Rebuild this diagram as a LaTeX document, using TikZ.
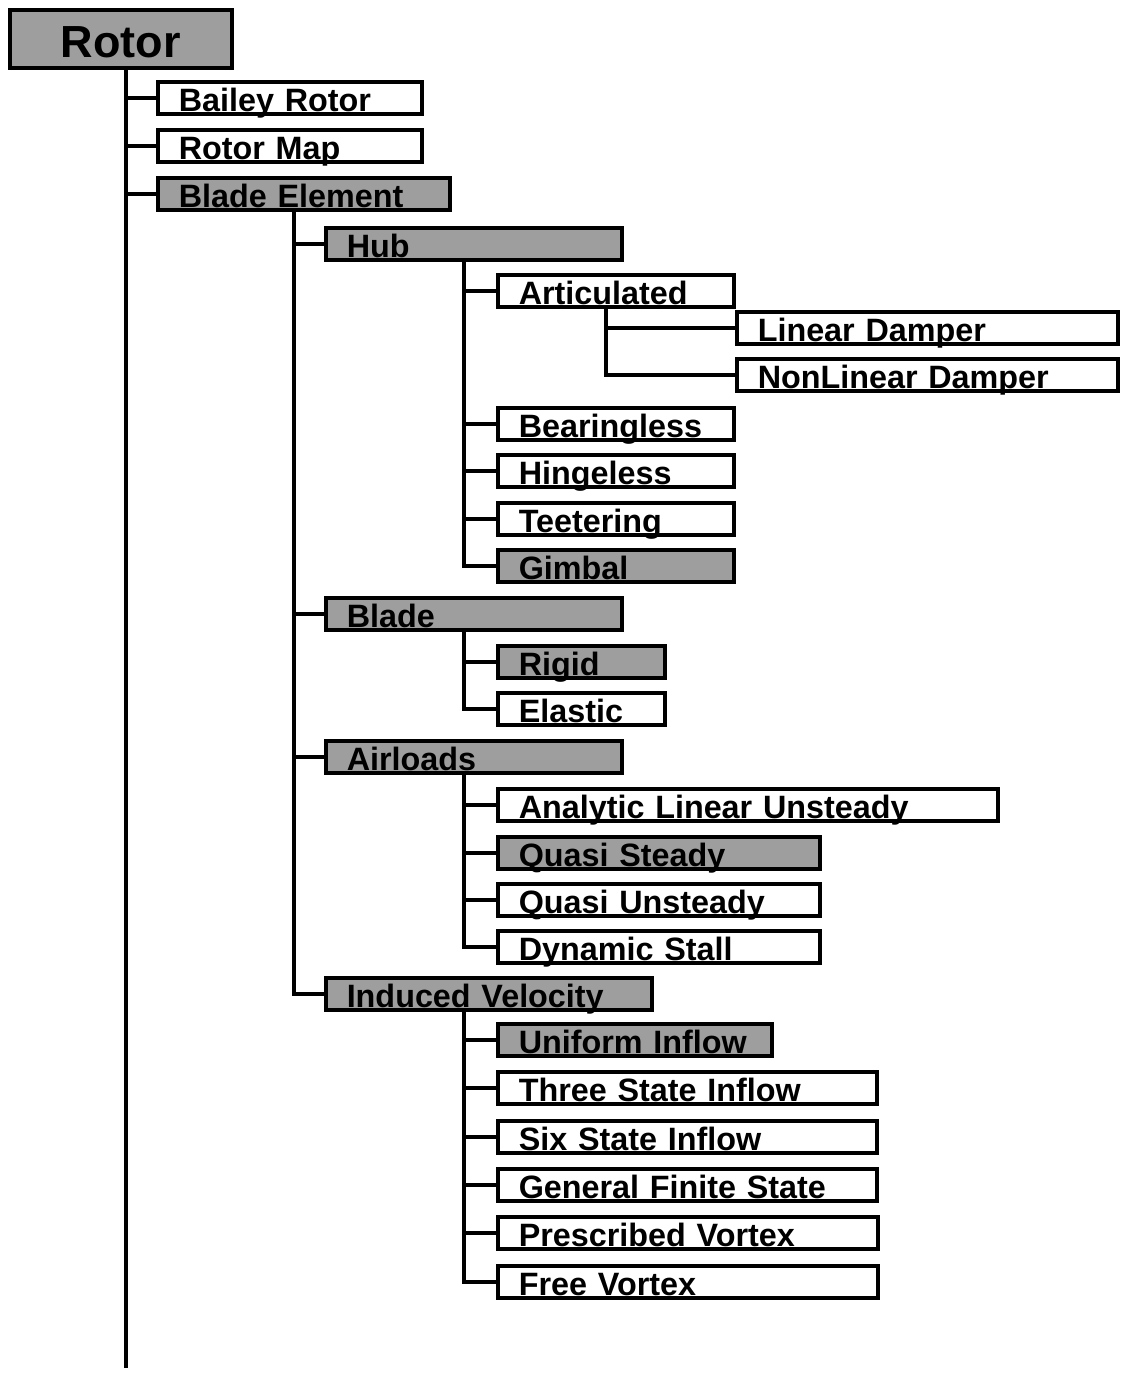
\documentclass[tikz,border=0pt]{standalone}
\usepackage{fontspec}
\setmainfont{Liberation Sans}
\newdimen\px \px=0.02cm
\begin{document}
\begin{tikzpicture}[x=0.02cm,y=-0.02cm,
  conn/.style={line width=2.2pt},
  box/.style={draw, line width=2pt, anchor=north west, inner xsep=21\px, inner ysep=0pt,
    text height=30\px, text depth=2\px, align=left,
    font=\fontsize{18.4}{20}\selectfont\bfseries},
  shaded/.style={box, fill=black!38},
  plain/.style={box, fill=white}]
\useasboundingbox (0,0) rectangle (1123,1374);
\newcommand{\bx}[6]{\node[#1, text width=#5\px] (#2) at (#3,#4) {#6};}
% root
\node[draw, fill=black!38, line width=2pt, anchor=north west, inner sep=0pt,
  minimum width=222\px, text height=48\px, text depth=10\px,
  font=\fontsize{25.6}{28}\selectfont\bfseries] (rotor) at (8,8) {Rotor};
% level 1
\bx{plain}{bailey}{156}{80}{222}{Bailey Rotor}
\bx{plain}{rotormap}{156}{128}{222}{Rotor Map}
\bx{shaded}{bladeel}{156}{176}{250}{Blade Element}
% level 2
\bx{shaded}{hub}{324}{226}{254}{Hub}
\bx{shaded}{blade}{324}{596}{254}{Blade}
\bx{shaded}{airloads}{324}{739}{254}{Airloads}
\bx{shaded}{indvel}{324}{976}{284}{Induced Velocity}
% hub children
\bx{plain}{artic}{496}{273}{194}{Articulated}
\bx{plain}{lindamp}{735}{310}{339}{Linear Damper}
\bx{plain}{nonlin}{735}{357}{339}{NonLinear Damper}
\bx{plain}{bearing}{496}{406}{194}{Bearingless}
\bx{plain}{hinge}{496}{453}{194}{Hingeless}
\bx{plain}{teeter}{496}{501}{194}{Teetering}
\bx{shaded}{gimbal}{496}{548}{194}{Gimbal}
% blade children
\bx{shaded}{rigid}{496}{644}{125}{Rigid}
\bx{plain}{elastic}{496}{691}{125}{Elastic}
% airloads children
\bx{plain}{analytic}{496}{787}{458}{Analytic Linear Unsteady}
\bx{shaded}{quasist}{496}{835}{280}{Quasi Steady}
\bx{plain}{quasiun}{496}{882}{280}{Quasi Unsteady}
\bx{plain}{dynstall}{496}{929}{280}{Dynamic Stall}
% induced velocity children
\bx{shaded}{uniform}{496}{1022}{232}{Uniform Inflow}
\bx{plain}{three}{496}{1070}{337}{Three State Inflow}
\bx{plain}{six}{496}{1119}{337}{Six State Inflow}
\bx{plain}{general}{496}{1167}{337}{General Finite State}
\bx{plain}{prescribed}{496}{1215}{338}{Prescribed Vortex}
\bx{plain}{free}{496}{1264}{338}{Free Vortex}
% trunk coordinates
\coordinate (rotend) at (126,1368);
\coordinate (tB) at (294,0);
\coordinate (tC) at (464,0);
\coordinate (tD) at (606,0);
% connectors
\draw[conn] (rotor.south -| rotend) -- (rotend);
\foreach \c in {bailey,rotormap,bladeel}
  \draw[conn] (rotor.south -| rotend) |- (\c.west);
\foreach \c in {hub,blade,airloads,indvel}
  \draw[conn] (bladeel.south -| tB) |- (\c.west);
\foreach \c in {artic,bearing,hinge,teeter,gimbal}
  \draw[conn] (hub.south -| tC) |- (\c.west);
\foreach \c in {lindamp,nonlin}
  \draw[conn] (artic.south -| tD) |- (\c.west);
\foreach \c in {rigid,elastic}
  \draw[conn] (blade.south -| tC) |- (\c.west);
\foreach \c in {analytic,quasist,quasiun,dynstall}
  \draw[conn] (airloads.south -| tC) |- (\c.west);
\foreach \c in {uniform,three,six,general,prescribed,free}
  \draw[conn] (indvel.south -| tC) |- (\c.west);
\end{tikzpicture}
\end{document}
